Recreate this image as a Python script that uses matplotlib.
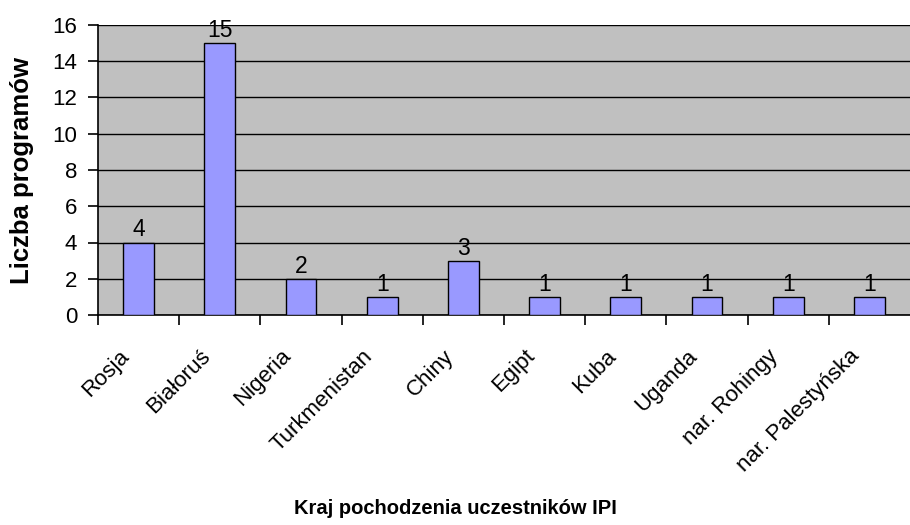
import matplotlib
matplotlib.use("Agg")
import matplotlib.pyplot as plt
import numpy as np

plt.rcParams['font.family'] = ['Liberation Sans', 'DejaVu Sans']

categories = ["Rosja", "Białoruś", "Nigeria", "Turkmenistan", "Chiny", "Egipt",
              "Kuba", "Uganda", "nar. Rohingy", "nar. Palestyńska"]
values = [4, 15, 2, 1, 3, 1, 1, 1, 1, 1]
yticks = [0, 2, 4, 6, 8, 10, 12, 14, 16]

fig = plt.figure(figsize=(9.1, 5.25), dpi=100)
ax = fig.add_axes([98/910, 1-315/525, (910-98)/910, (315-25)/525])
ax.set_facecolor('#C0C0C0')

x = np.arange(len(categories))
ax.bar(x, values, width=0.38, color='#9999FF', edgecolor='black', linewidth=1.0, zorder=3)
for xi, v in zip(x, values):
    ax.annotate(str(v), (xi, v), xytext=(0, 1), textcoords='offset pixels',
                ha='center', va='bottom', fontsize=16.5, zorder=4)

ax.set_xlim(-0.5, len(categories) - 0.5)
ax.set_ylim(0, 16)
ax.set_yticks(yticks)
ax.set_yticklabels([str(t) for t in yticks], fontsize=16)
ax.yaxis.grid(True, color='black', linewidth=1.0, zorder=0)
ax.set_axisbelow(True)

ax.set_xticks(x - 0.5)
ax.set_xticklabels([])
ax.tick_params(axis='x', length=7, width=1.2, direction='out')
ax.tick_params(axis='y', length=7, width=1.2, direction='out', pad=8)

for xi, name in zip(x, categories):
    ax.annotate(name, (xi, 0), xycoords=('data', 'axes fraction'),
                xytext=(-13, -38), textcoords='offset pixels',
                rotation=45, rotation_mode='anchor', ha='right', va='center',
                fontsize=16)

for s in ['top', 'right']:
    ax.spines[s].set_visible(False)
ax.spines['left'].set_linewidth(1.2)
ax.spines['bottom'].set_linewidth(1.2)

fig.text(22/910, 1-170/525, "Liczba programów", rotation=90, ha='center', va='center',
         fontsize=18.5, fontweight='bold')
fig.text(455/910, 1-508/525, "Kraj pochodzenia uczestników IPI", ha='center', va='center',
         fontsize=14.5, fontweight='bold')

fig.savefig("out.png", dpi=100)
